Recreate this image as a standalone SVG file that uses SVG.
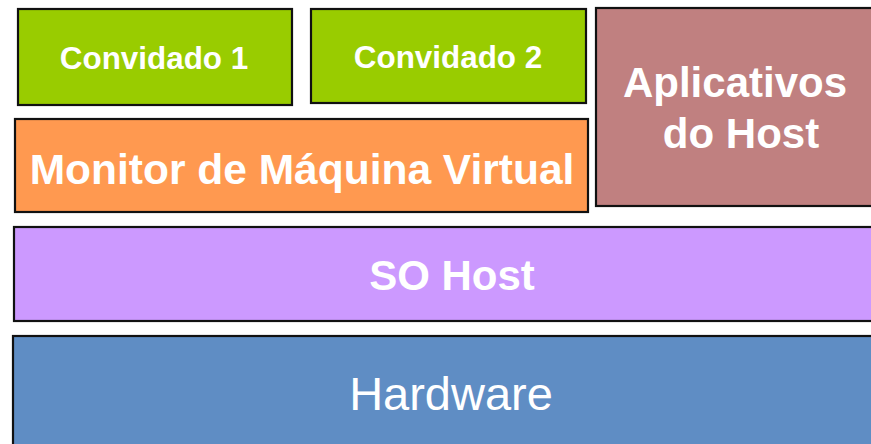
<svg xmlns="http://www.w3.org/2000/svg" width="871" height="444" viewBox="0 0 871 444">
  <style>
    .box { stroke: #111; stroke-width: 2.2; }
    .lbl { font-family: "Liberation Sans", Arial, sans-serif; fill: #fff; text-anchor: middle; }
    .b { font-weight: bold; }
  </style>
  <rect width="871" height="444" fill="#fff"/>
  <g id="hardware">
    <rect class="box" x="13" y="336" width="880" height="120" fill="#5F8DC4"/>
    <text class="lbl" x="451" y="410" font-size="47">Hardware</text>
  </g>
  <g id="so-host">
    <rect class="box" x="14" y="227" width="880" height="94" fill="#CC99FF"/>
    <text class="lbl b" x="452" y="290" font-size="42">SO Host</text>
  </g>
  <g id="monitor">
    <rect class="box" x="15" y="119" width="573" height="93" fill="#FF9950"/>
    <text class="lbl b" x="302" y="184" font-size="42.5">Monitor de Máquina Virtual</text>
  </g>
  <g id="aplicativos">
    <rect class="box" x="596" y="8" width="290" height="198" fill="#C08080"/>
    <text class="lbl b" x="735" y="97" font-size="42">Aplicativos</text>
    <text class="lbl b" x="741" y="148" font-size="42">do Host</text>
  </g>
  <g id="convidado-1">
    <rect class="box" x="18" y="9" width="274" height="96" fill="#99CC00"/>
    <text class="lbl b" x="154" y="69" font-size="31.4">Convidado 1</text>
  </g>
  <g id="convidado-2">
    <rect class="box" x="311" y="9" width="275" height="94" fill="#99CC00"/>
    <text class="lbl b" x="448" y="68" font-size="31.4">Convidado 2</text>
  </g>
  <g id="connectors"/>
</svg>
